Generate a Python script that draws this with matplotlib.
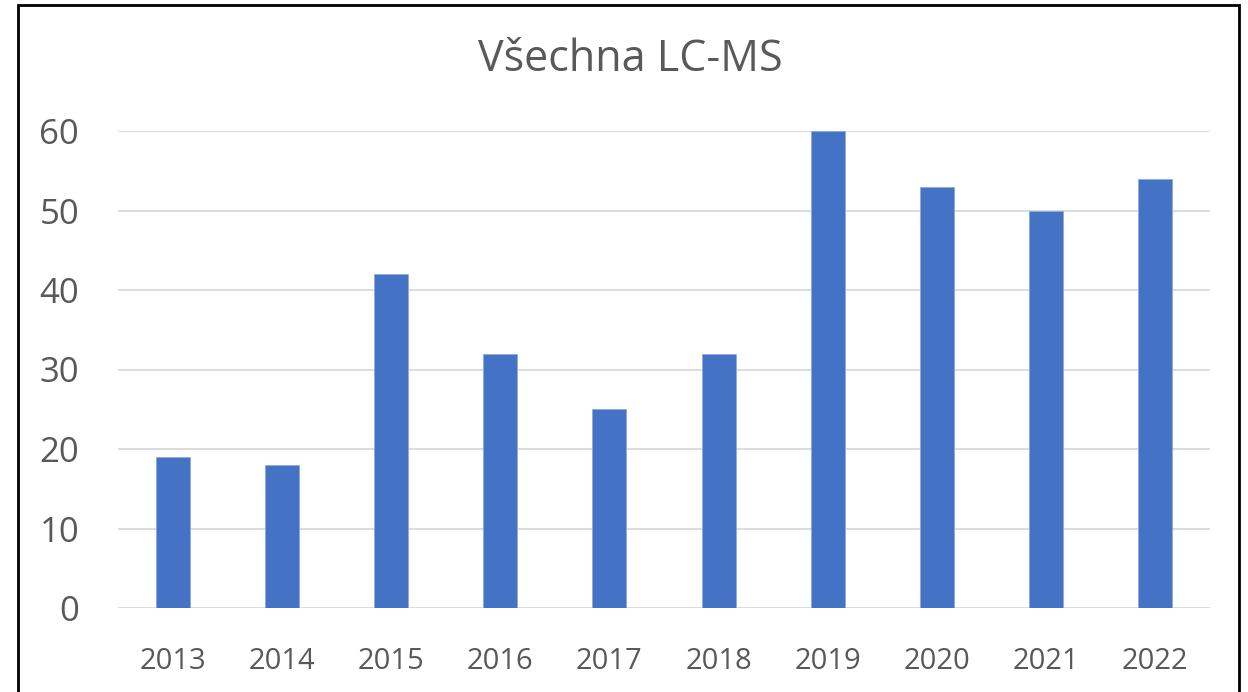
import matplotlib.pyplot as plt
from matplotlib.patches import Rectangle

years = ["2013", "2014", "2015", "2016", "2017", "2018", "2019", "2020", "2021", "2022"]
counts = [19, 18, 42, 32, 25, 32, 60, 53, 50, 54]
yticks = [0, 10, 20, 30, 40, 50, 60]

plt.rcParams['font.family'] = ['Open Sans', 'DejaVu Sans']

W, H = 1248, 692
fig = plt.figure(figsize=(W / 100, H / 100), dpi=100)
ax = fig.add_axes([118 / W, (H - 608) / H, (1210 - 118) / W, (608 - 131) / H])

x = range(len(years))
ax.bar(x, counts, width=0.31, color="#4472C4", edgecolor="#8FAADC", linewidth=0.6, zorder=3)

ax.set_xlim(-0.5, len(years) - 0.5)
ax.set_ylim(0, 60)
ax.set_yticks(yticks)
ax.set_xticks(list(x))
ax.set_xticklabels(years)
ax.grid(axis="y", color="#D9D9D9", linewidth=1.3, zorder=0)
ax.set_axisbelow(True)
for s in ax.spines.values():
    s.set_visible(False)
ax.tick_params(axis="both", length=0, colors="#595959")
ax.tick_params(axis="y", labelsize=25, pad=28)
ax.tick_params(axis="x", labelsize=21, pad=28)
fig.text(630 / W, (H - 60) / H, "Všechna LC-MS", fontsize=31, color="#595959",
         ha="center", va="center")

# chart-area border
fig.patches.append(Rectangle((18 / W, -0.05), (1239 - 18) / W, (H - 5) / H + 0.05,
                             transform=fig.transFigure, fill=False,
                             edgecolor="black", linewidth=2, clip_on=False))

fig.savefig("out.png", dpi=100)
